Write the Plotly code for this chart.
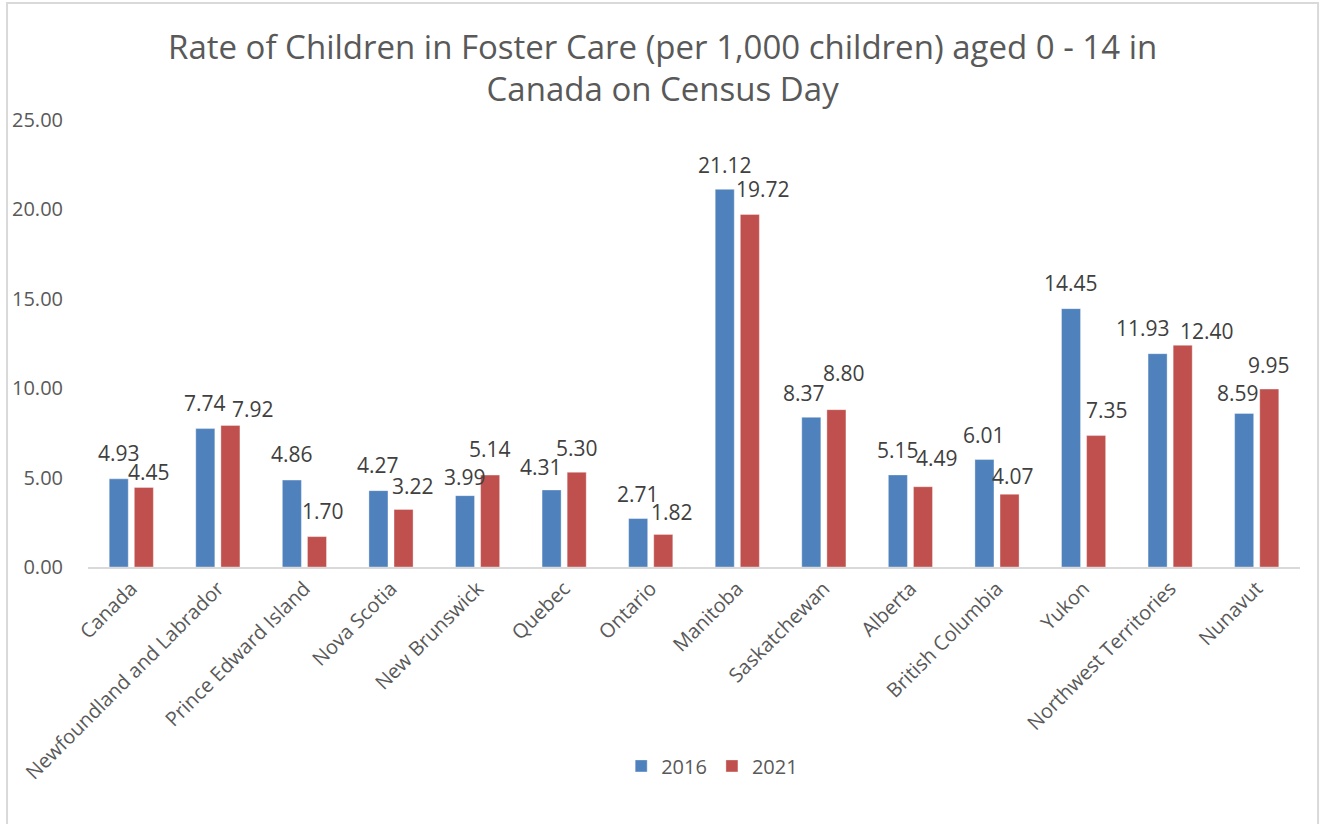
import plotly.graph_objects as go
import numpy as np

categories = ["Canada", "Newfoundland and Labrador", "Prince Edward Island", "Nova Scotia",
              "New Brunswick", "Quebec", "Ontario", "Manitoba", "Saskatchewan", "Alberta",
              "British Columbia", "Yukon", "Northwest Territories", "Nunavut"]
rate_2016 = [4.93, 7.74, 4.86, 4.27, 3.99, 4.31, 2.71, 21.12, 8.37, 5.15, 6.01, 14.45, 11.93, 8.59]
rate_2021 = [4.45, 7.92, 1.70, 3.22, 5.14, 5.30, 1.82, 19.72, 8.80, 4.49, 4.07, 7.35, 12.40, 9.95]
series_names = ["2016", "2021"]
y_ticks = [0, 5, 10, 15, 20, 25]

# Pixel nudges of the data labels (xshift, yshift) as placed in the original chart
label_nudge_2016 = [(0, 26), (0, 26), (0, 26), (0, 26), (0, 19), (-11, 23), (0, 25),
                    (0, 24), (-7, 24), (0, 25), (0, 25), (0, 26), (-15, 26), (-6, 20)]
label_nudge_2021 = [(5, 15), (23, 16), (6, 26), (9, 23), (0, 26), (0, 24), (9, 22),
                    (13, 25), (8, 37), (14, 29), (3, 18), (11, 26), (24, 14), (0, 24)]

BLUE = "#4F81BD"
RED = "#C0504D"
TXT = "#595959"
LBL = "#404040"
FONT = "Open Sans"

x = np.arange(len(categories))
width = 0.22
offsets = [-0.255, 0.035]

fig = go.Figure()
for name, vals, col, off in zip(series_names, [rate_2016, rate_2021], [BLUE, RED], offsets):
    fig.add_trace(go.Bar(x=x, y=vals, name=name,
                         marker=dict(color=col, line=dict(width=0.6, color="rgba(255,255,255,0.6)")),
                         width=width, offset=off))

annotations = []
for vals, off, nudges in zip([rate_2016, rate_2021], offsets, [label_nudge_2016, label_nudge_2021]):
    for xi, v, (dx, dy) in zip(x, vals, nudges):
        annotations.append(dict(x=xi + off + width / 2, y=v, xref="x", yref="y",
                                text=f"{v:.2f}", showarrow=False, xshift=dx, yshift=dy,
                                font=dict(family=FONT, size=21, color=LBL)))

fig.update_layout(
    width=1320, height=824,
    margin=dict(l=88, r=20, t=120, b=257),
    paper_bgcolor="white", plot_bgcolor="white",
    font=dict(family=FONT, color=TXT, size=20),
    barmode="overlay",
    title=dict(text="Rate of Children in Foster Care (per 1,000 children) aged 0 - 14 in<br>Canada on Census Day",
               x=0.502, xanchor="center", y=0.929, yanchor="middle", yref="container",
               font=dict(family=FONT, size=33, color=TXT)),
    xaxis=dict(range=[-0.5, len(categories) - 0.5], tickvals=x, ticktext=categories,
               tickangle=-45, showgrid=False, showline=True, linecolor="#D9D9D9", linewidth=2,
               ticks="", tickfont=dict(family=FONT, size=20, color=TXT), zeroline=False),
    yaxis=dict(range=[0, 25], tickvals=y_ticks, tickformat=".2f", showgrid=False,
               showline=False, zeroline=False, ticks="", ticklabelstandoff=24,
               tickfont=dict(family=FONT, size=20, color=TXT)),
    legend=dict(orientation="h", x=0.515, xanchor="center", y=-0.445, yanchor="middle",
                font=dict(family=FONT, size=20, color=TXT), itemwidth=30, traceorder="normal"),
    annotations=annotations,
    shapes=[dict(type="rect", xref="paper", yref="paper", x0=-0.0668, x1=1.0149, y0=-0.6, y1=1.2617,
                 line=dict(color="#D9D9D9", width=2), fillcolor="rgba(0,0,0,0)", layer="below")],
)

fig.write_html("out.html")
